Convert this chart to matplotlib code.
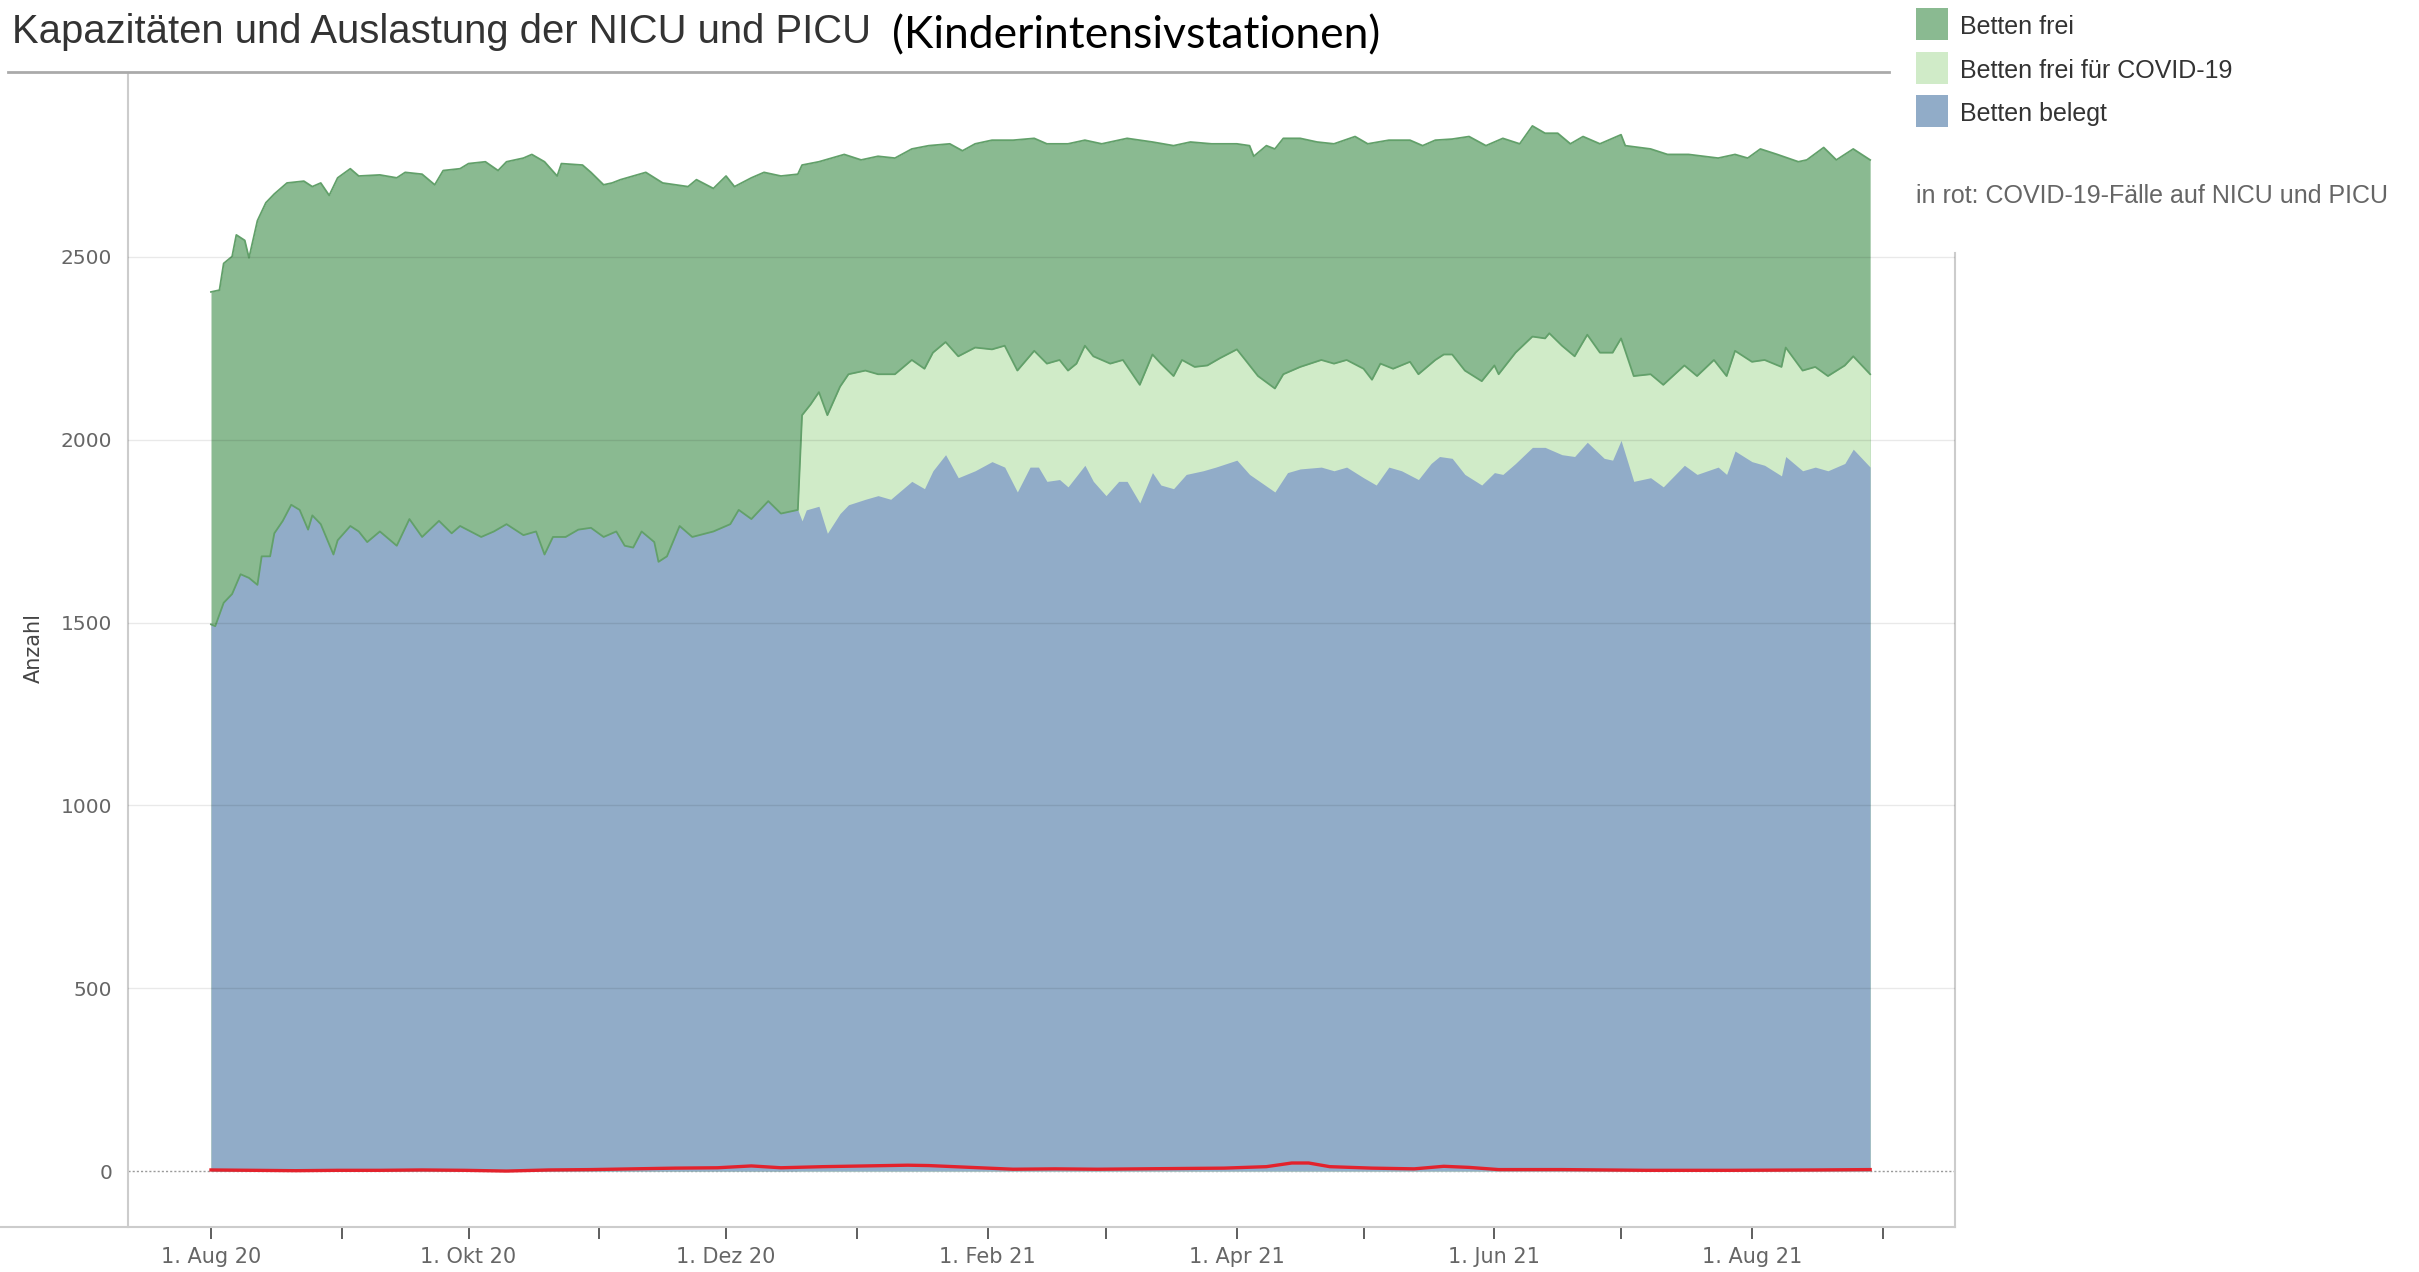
import numpy as np
import matplotlib
matplotlib.use("Agg")
import matplotlib.pyplot as plt
import matplotlib.dates as mdates
from matplotlib.lines import Line2D
from matplotlib.patches import Rectangle

# ---------------- data (day offsets from 1 Aug 2020) ----------------
start_date = "2020-08-01"

total_days = [0, 2, 3, 5, 6, 8, 9, 11, 13, 15, 18, 22, 24, 26, 28, 30, 33, 35, 40, 44,
              46, 50, 53, 55, 59, 61, 65, 68, 70, 74, 76, 79, 82, 83, 88, 90, 93, 95, 97, 103,
              107, 113, 115, 119, 122, 124, 128, 131, 135, 139, 140, 144, 150, 154, 158, 162, 166, 170, 175, 178,
              181, 185, 190, 195, 198, 203, 207, 211, 217, 223, 228, 232, 237, 243, 246, 247, 250, 252, 254, 258,
              262, 266, 271, 274, 279, 284, 287, 290, 294, 298, 302, 306, 310, 313, 316, 319, 322, 325, 329, 334,
              335, 341, 345, 350, 357, 361, 364, 367, 371, 376, 378, 382, 385, 389, 393]
total_beds = [2404, 2409, 2482, 2501, 2560, 2545, 2497, 2599, 2648, 2672, 2702, 2707, 2692, 2702, 2668, 2716, 2741, 2721, 2724, 2716,
              2731, 2726, 2697, 2736, 2741, 2755, 2760, 2736, 2760, 2770, 2780, 2760, 2721, 2755, 2751, 2731, 2697, 2702, 2711, 2731,
              2702, 2692, 2711, 2687, 2721, 2692, 2716, 2731, 2721, 2726, 2751, 2760, 2780, 2765, 2775, 2770, 2795, 2804, 2809, 2790,
              2809, 2819, 2819, 2824, 2809, 2809, 2819, 2809, 2824, 2814, 2804, 2814, 2809, 2809, 2804, 2775, 2804, 2795, 2824, 2824,
              2814, 2809, 2829, 2809, 2819, 2819, 2804, 2819, 2822, 2829, 2804, 2824, 2809, 2858, 2838, 2838, 2809, 2829, 2809, 2834,
              2804, 2795, 2780, 2780, 2770, 2780, 2770, 2795, 2780, 2760, 2765, 2799, 2765, 2795, 2765]

occupied_days = [0, 1, 3, 5, 7, 8, 9, 11, 12, 14, 15, 17, 19, 21, 23, 24, 26, 29, 30, 33,
                 35, 37, 40, 44, 47, 50, 54, 57, 59, 64, 67, 70, 74, 77, 79, 81, 84, 87, 90, 93,
                 96, 98, 100, 102, 105, 106, 108, 111, 114, 119, 123, 125, 128, 132, 135, 139, 140, 141, 144, 146,
                 149, 151, 155, 158, 161, 166, 169, 171, 174, 177, 181, 185, 188, 191, 194, 196, 198, 201, 203, 207,
                 209, 212, 215, 217, 220, 223, 225, 228, 231, 235, 238, 243, 246, 249, 252, 255, 258, 263, 266, 269,
                 273, 276, 279, 282, 286, 289, 291, 294, 297, 301, 304, 306, 309, 313, 316, 320, 323, 326, 330, 332,
                 334, 337, 341, 344, 349, 352, 357, 359, 361, 365, 368, 372, 373, 377, 380, 383, 387, 389, 393]
occupied_beds = [1495, 1490, 1554, 1578, 1632, 1627, 1622, 1603, 1681, 1681, 1744, 1778, 1822, 1808, 1754, 1793, 1769, 1686, 1725, 1764,
                 1749, 1720, 1749, 1710, 1783, 1734, 1778, 1744, 1764, 1734, 1749, 1769, 1739, 1749, 1686, 1734, 1734, 1754, 1759, 1734,
                 1749, 1710, 1705, 1749, 1720, 1666, 1681, 1764, 1734, 1749, 1769, 1808, 1783, 1832, 1798, 1808, 1778, 1808, 1818, 1744,
                 1798, 1822, 1837, 1847, 1837, 1886, 1866, 1915, 1959, 1896, 1915, 1940, 1925, 1857, 1925, 1925, 1886, 1891, 1871, 1930,
                 1886, 1847, 1886, 1886, 1827, 1910, 1876, 1866, 1905, 1915, 1925, 1944, 1905, 1881, 1857, 1910, 1920, 1925, 1915, 1925,
                 1896, 1876, 1925, 1915, 1891, 1935, 1954, 1949, 1905, 1876, 1910, 1905, 1935, 1979, 1979, 1959, 1954, 1993, 1949, 1944,
                 1998, 1886, 1896, 1871, 1930, 1905, 1925, 1905, 1969, 1940, 1930, 1901, 1954, 1915, 1925, 1915, 1935, 1974, 1925]

# upper edge of "Betten frei für COVID-19" (stacked on occupied beds), reported from 19 Dec 2020
covid_free_days = [139, 140, 142, 144, 146, 149, 151, 155, 158, 162, 166, 169, 171, 174, 177, 181, 185, 188, 191, 195,
                   198, 201, 203, 205, 207, 209, 213, 216, 220, 223, 225, 228, 230, 233, 236, 239, 243, 245, 248, 252,
                   254, 258, 263, 266, 269, 273, 275, 277, 280, 284, 286, 290, 292, 294, 297, 301, 304, 305, 309, 313,
                   316, 317, 320, 323, 326, 329, 332, 334, 337, 341, 344, 349, 352, 356, 359, 361, 365, 368, 372, 373,
                   377, 380, 383, 387, 389, 393]
covid_free_top = [1808, 2067, 2096, 2130, 2067, 2145, 2179, 2189, 2179, 2179, 2218, 2194, 2238, 2267, 2228, 2252, 2247, 2257, 2189, 2243,
                  2208, 2218, 2189, 2208, 2257, 2228, 2208, 2218, 2150, 2233, 2208, 2174, 2218, 2199, 2203, 2223, 2247, 2218, 2174, 2140,
                  2179, 2199, 2218, 2208, 2218, 2194, 2164, 2208, 2194, 2213, 2179, 2218, 2233, 2233, 2189, 2160, 2203, 2179, 2238, 2282,
                  2277, 2291, 2257, 2228, 2287, 2238, 2238, 2277, 2174, 2179, 2150, 2203, 2174, 2218, 2174, 2243, 2213, 2218, 2199, 2252,
                  2189, 2199, 2174, 2203, 2228, 2179]

covid_case_days = [0, 10, 20, 30, 40, 50, 60, 70, 80, 90, 100, 110, 120, 128, 135, 145, 155, 165, 170, 180,
                   190, 200, 210, 220, 230, 240, 250, 256, 260, 265, 275, 285, 292, 298, 305, 320, 340, 360, 380, 393]
covid_cases = [3, 2, 1, 2, 2, 3, 2, 0, 3, 4, 6, 8, 9, 14, 9, 12, 14, 16, 15, 10,
               5, 6, 5, 6, 7, 8, 12, 22, 22, 12, 8, 6, 13, 10, 4, 4, 2, 2, 3, 4]

tick_months = ["2020-08-01", "2020-09-01", "2020-10-01", "2020-11-01", "2020-12-01", "2021-01-01", "2021-02-01",
               "2021-03-01", "2021-04-01", "2021-05-01", "2021-06-01", "2021-07-01", "2021-08-01", "2021-09-01"]
tick_labels = ["1. Aug 20", "", "1. Okt 20", "", "1. Dez 20", "", "1. Feb 21",
               "", "1. Apr 21", "", "1. Jun 21", "", "1. Aug 21", ""]
y_ticks = [0, 500, 1000, 1500, 2000, 2500]

legend_labels = ["Betten frei", "Betten frei für COVID-19", "Betten belegt"]
title_main = "Kapazitäten und Auslastung der NICU und PICU"
title_extra = "(Kinderintensivstationen)"
note_text = "in rot: COVID-19-Fälle auf NICU und PICU"

# ---------------- styling ----------------
C_FREE = "#8aba91"
C_FREE_LINE = "#62a06a"
C_COVFREE = "#d0ebc8"
C_OCC = "#91acc8"
C_RED = "#e3222c"

W, H = 2419, 1272
fig = plt.figure(figsize=(W / 100, H / 100), dpi=100)
fig.patch.set_facecolor("white")

def fx(px):
    return px / W

def fy(py):
    return 1 - py / H

ax_l, ax_r, ax_t, ax_b = 128, 1955, 74, 1227
ax = fig.add_axes([fx(ax_l), fy(ax_b), (ax_r - ax_l) / W, (ax_b - ax_t) / H])

base = mdates.date2num(np.datetime64(start_date))
x_total = base + np.array(total_days, dtype=float)
x_occ = base + np.array(occupied_days, dtype=float)
x_cov = base + np.array(covid_free_days, dtype=float)
x_case = base + np.array(covid_case_days, dtype=float)

ax.fill_between(x_total, 0, total_beds, color=C_FREE, lw=0, zorder=2)
ax.fill_between(x_cov, 0, covid_free_top, color=C_COVFREE, lw=0, zorder=3)
ax.fill_between(x_occ, 0, occupied_beds, color=C_OCC, lw=0, zorder=4)

# edges of the "Betten frei" band
ax.plot(x_total, total_beds, color=C_FREE_LINE, lw=1.3, zorder=5)
occ = np.array(occupied_days)
mask = occ < covid_free_days[0]
edge_x = np.concatenate([x_occ[mask], x_cov])
edge_y = np.concatenate([np.array(occupied_beds)[mask], covid_free_top])
ax.plot(edge_x, edge_y, color=C_FREE_LINE, lw=1.3, zorder=5)

# zero line and grid
ax.axhline(0, color="#9a9a9a", lw=1.0, ls=(0, (1.5, 1.5)), zorder=1)
for yv in y_ticks[1:]:
    ax.axhline(yv, color="black", alpha=0.085, lw=1.0, zorder=6)

ax.plot(x_case, covid_cases, color=C_RED, lw=2.4, zorder=8, solid_joinstyle="round")

ax.set_ylim(-153, 3000)
ax.set_xlim(base - 19.66, base + 413.1)

ax.set_yticks(y_ticks)
ax.set_yticklabels([str(v) for v in y_ticks])
ax.tick_params(axis="y", length=0, pad=11.5, labelsize=14.5, labelcolor="#666666")

tick_pos = [mdates.date2num(np.datetime64(d)) for d in tick_months]
ax.set_xticks(tick_pos)
ax.set_xticklabels(tick_labels)
ax.tick_params(axis="x", length=8.5, width=1.1, color="#333333", pad=6, labelsize=15, labelcolor="#666666")

for s in ["top", "right", "bottom"]:
    ax.spines[s].set_visible(False)
ax.spines["left"].set_color("#cccccc")
ax.spines["left"].set_linewidth(1.5)

# right border and bottom baseline
ax.plot([1, 1], [-153, 2510], transform=ax.get_yaxis_transform(), color="#cccccc", lw=1.5, clip_on=False)
fig.add_artist(Line2D([0, fx(ax_r)], [fy(ax_b), fy(ax_b)], transform=fig.transFigure, color="#cccccc", lw=1.5))

# y label
fig.text(fx(34), fy(648), "Anzahl", rotation=90, ha="center", va="center", fontsize=15, color="#444444")

# title
renderer = fig.canvas.get_renderer()
t1 = fig.text(fx(12), fy(43), title_main, ha="left", va="baseline", fontsize=28.8,
              family="Liberation Sans", color="#333333")
w1 = t1.get_window_extent(renderer).width
t1.set_fontsize(28.8 * 860 / w1)
t2 = fig.text(fx(892), fy(48), title_extra, ha="left", va="baseline", fontsize=34,
              family="Lato", color="black")
w2 = t2.get_window_extent(renderer).width
t2.set_fontsize(34 * 489 / w2)

fig.add_artist(Line2D([fx(8), fx(1889)], [fy(72), fy(72)], transform=fig.transFigure, color="#aaaaaa", lw=2.0))

# legend
leg_colors = [C_FREE, C_COVFREE, C_OCC]
row_base = [34.5, 78, 121]
for lab, col, yb in zip(legend_labels, leg_colors, row_base):
    fig.add_artist(Rectangle((fx(1916), fy(yb + 5.5)), 32 / W, 32 / H, transform=fig.transFigure,
                             facecolor=col, edgecolor="none"))
    fig.text(fx(1960), fy(yb), lab, ha="left", va="baseline", fontsize=18,
             family="Liberation Sans", color="#333333")
fig.text(fx(1916), fy(203), note_text, ha="left", va="baseline", fontsize=18,
         family="Liberation Sans", color="#666666")

fig.savefig("out.png", dpi=100, facecolor="white")
